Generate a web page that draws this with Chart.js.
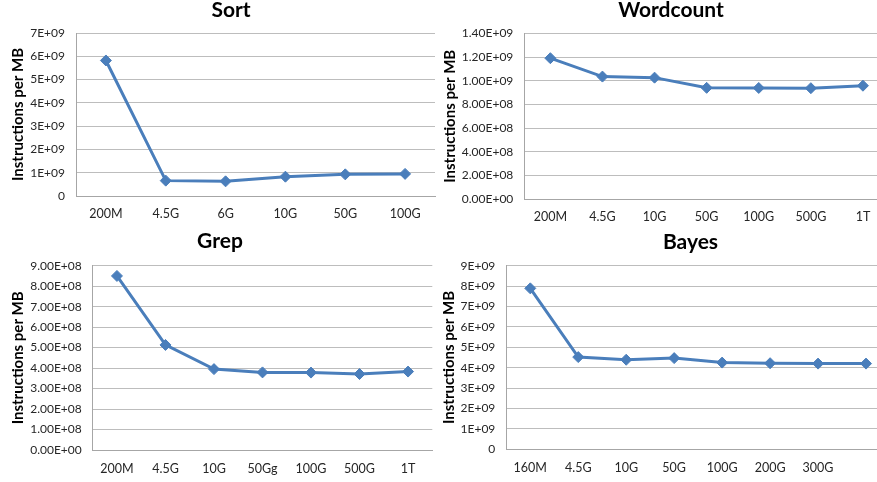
<!DOCTYPE html>
<html>
<head>
<meta charset="utf-8">
<script src="https://cdn.jsdelivr.net/npm/chart.js@4"></script>
<style>
html,body{margin:0;padding:0;background:#fff;overflow:hidden;width:877px;height:482px;}
.box{position:absolute;}
</style>
</head>
<body>
<div class="box" id="b1" style="left:0;top:0;width:445px;height:230px;"><canvas id="c1"></canvas></div>
<div class="box" id="b2" style="left:440px;top:0;width:460px;height:230px;"><canvas id="c2"></canvas></div>
<div class="box" id="b3" style="left:0;top:230px;width:445px;height:252px;"><canvas id="c3"></canvas></div>
<div class="box" id="b4" style="left:440px;top:230px;width:460px;height:252px;"><canvas id="c4"></canvas></div>
<script>
// ---- data ----
const sortCats = ['200M','4.5G','6G','10G','50G','100G'];
const sortVals = [5.82e9, 0.66e9, 0.63e9, 0.83e9, 0.93e9, 0.95e9];
const sortYTicks = ['0','1E+09','2E+09','3E+09','4E+09','5E+09','6E+09','7E+09'];

const wcCats = ['200M','4.5G','10G','50G','100G','500G','1T'];
const wcVals = [1.19e9, 1.035e9, 1.026e9, 0.94e9, 0.939e9, 0.937e9, 0.958e9];
const wcYTicks = ['0.00E+00','2.00E+08','4.00E+08','6.00E+08','8.00E+08','1.00E+09','1.20E+09','1.40E+09'];

const grepCats = ['200M','4.5G','10G','50Gg','100G','500G','1T'];
const grepVals = [8.5e8, 5.13e8, 3.95e8, 3.79e8, 3.78e8, 3.71e8, 3.83e8];
const grepYTicks = ['0.00E+00','1.00E+08','2.00E+08','3.00E+08','4.00E+08','5.00E+08','6.00E+08','7.00E+08','8.00E+08','9.00E+08'];

const bayesCats = ['160M','4.5G','10G','50G','100G','200G','300G',''];
const bayesVals = [7.89e9, 4.52e9, 4.39e9, 4.47e9, 4.25e9, 4.22e9, 4.2e9, 4.2e9];
const bayesYTicks = ['0','1E+09','2E+09','3E+09','4E+09','5E+09','6E+09','7E+09','8E+09','9E+09'];

// ---- helpers ----
const FONT = 'Lato';
const LINE = '#4a7ebb';
const titlePlugin = {
  id: 'ptitle',
  afterDraw(chart, args, o) {
    const ctx = chart.ctx;
    ctx.save();
    ctx.font = 'bold 21px ' + FONT;
    ctx.fillStyle = '#000';
    ctx.textAlign = 'center';
    ctx.textBaseline = 'alphabetic';
    ctx.fillText(o.text, o.x, o.y);
    ctx.restore();
  }
};

function makeChart(id, cfg) {
  return new Chart(document.getElementById(id), {
    type: 'line',
    data: {
      labels: cfg.cats,
      datasets: [{
        data: cfg.vals,
        borderColor: LINE,
        backgroundColor: LINE,
        borderWidth: 3,
        pointStyle: 'rectRot',
        pointRadius: 5.5,
        pointBorderWidth: 1,
        tension: 0
      }]
    },
    options: {
      responsive: true,
      maintainAspectRatio: false,
      animation: false,
      layout: { padding: { top: cfg.top, left: 0, right: cfg.right, bottom: 0 } },
      plugins: {
        legend: { display: false },
        tooltip: { enabled: false },
        title: { display: false },
        ptitle: { text: cfg.title, x: cfg.tx, y: cfg.ty }
      },
      scales: {
        x: {
          offset: true,
          grid: { display: false, drawTicks: false },
          border: { display: true, color: '#a6a6a6', width: 1 },
          ticks: { color: '#262626', font: { family: FONT, size: 12.5 }, padding: cfg.xpad, maxRotation: 0, autoSkip: false },
          afterFit: s => { s.height = cfg.xh; }
        },
        y: {
          min: 0, max: cfg.max,
          grid: { color: '#bdbdbd', lineWidth: 1, drawTicks: false },
          border: { display: true, color: '#a6a6a6', width: 1 },
          ticks: { stepSize: cfg.step, color: '#262626', font: { family: FONT, size: 12 }, padding: 11,
                   callback: (v, i) => cfg.yt[i] },
          title: { display: true, text: 'Instructions per MB', color: '#000',
                   font: { family: FONT, size: 15, weight: 'bold' }, padding: { top: cfg.ytp, bottom: 0 } },
          afterFit: s => { s.width = cfg.yw; }
        }
      }
    },
    plugins: [titlePlugin]
  });
}

makeChart('c1', { cats: sortCats, vals: sortVals, yt: sortYTicks, max: 7e9, step: 1e9, title: 'Sort',
  tx: 231, ty: 17, top: 33, right: 10, xh: 34, yw: 76, ytp: 9, xpad: 10 });
makeChart('c2', { cats: wcCats, vals: wcVals, yt: wcYTicks, max: 1.4e9, step: 2e8, title: 'Wordcount',
  tx: 231, ty: 17, top: 33.3, right: 11, xh: 30.7, yw: 84.3, ytp: 0.7, xpad: 10 });
makeChart('c3', { cats: grepCats, vals: grepVals, yt: grepYTicks, max: 9e8, step: 1e8, title: 'Grep',
  tx: 220, ty: 17.5, top: 35.7, right: 12.7, xh: 32, yw: 92.7, ytp: 9.3, xpad: 11 });
makeChart('c4', { cats: bayesCats, vals: bayesVals, yt: bayesYTicks, max: 9e9, step: 1e9, title: 'Bayes',
  tx: 250.5, ty: 19, top: 35.7, right: 10, xh: 32.7, yw: 66.3, ytp: 0, xpad: 11 });
</script>
</body>
</html>
